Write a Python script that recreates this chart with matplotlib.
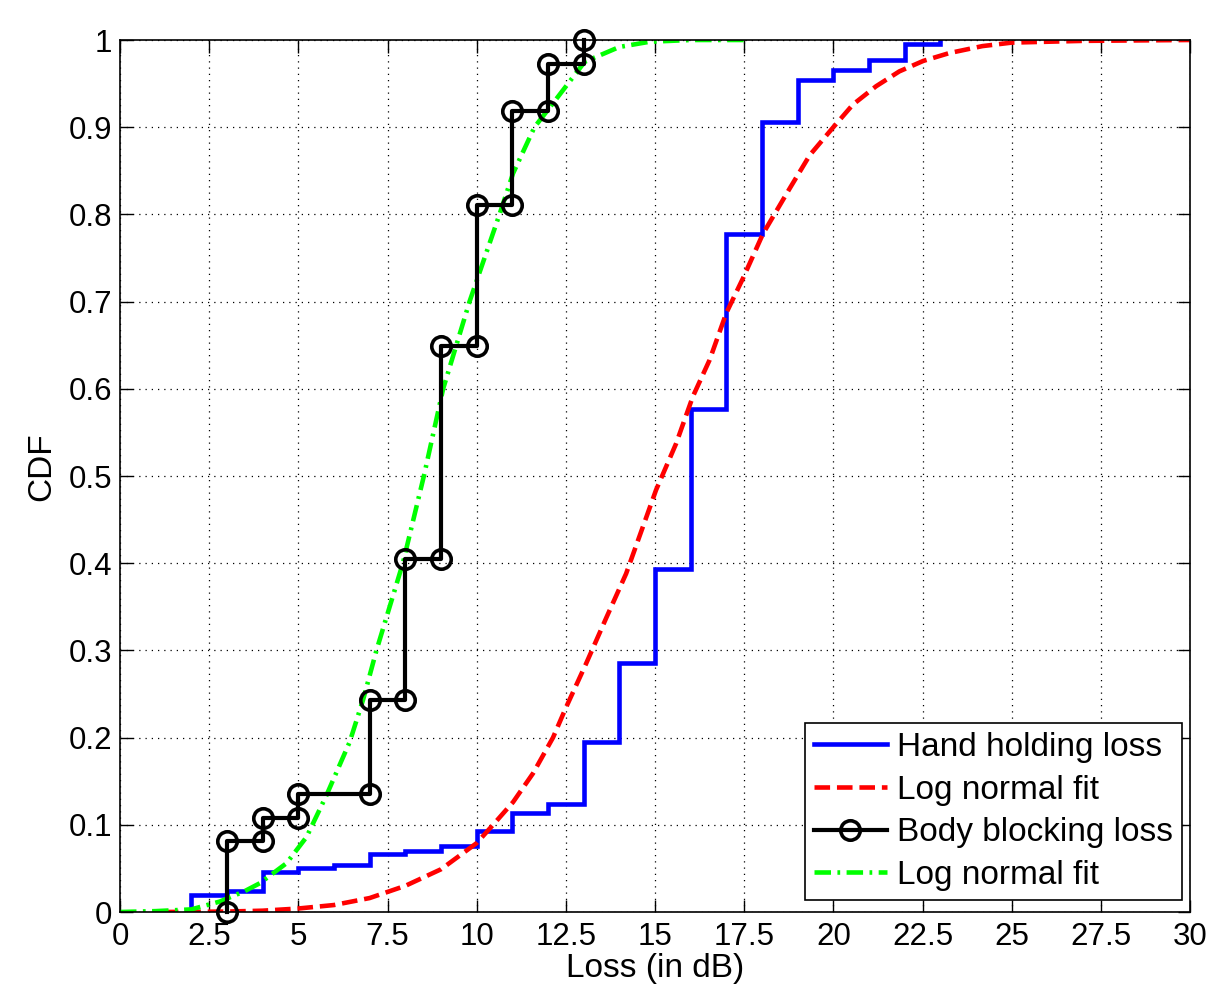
import numpy as np
import matplotlib
matplotlib.use("Agg")
import matplotlib.pyplot as plt

plt.rcParams['font.family'] = ['Liberation Sans', 'DejaVu Sans']

# hand holding loss, empirical cdf (step values after each x)
hand_x = [2, 3, 4, 5, 6, 7, 8, 9, 10, 11, 12, 13, 14, 15, 16, 17, 18, 19, 20, 21, 22, 23]
hand_cdf = [0.019, 0.024, 0.046, 0.050, 0.054, 0.067, 0.070, 0.0757, 0.093, 0.113, 0.1235,
            0.195, 0.285, 0.393, 0.577, 0.777, 0.906, 0.954, 0.966, 0.977, 0.995, 1.0]

# log normal fit for hand holding loss
fit1_x = [1.2, 3, 4, 5, 6, 7, 8, 9, 10, 10.46, 11.02, 11.58, 12.14, 12.51, 13.07, 13.63,
          14.19, 15.03, 15.59, 16.06, 16.53, 17.0, 17.47, 18.03, 18.78, 19.34, 20.0, 20.55,
          21.2, 21.85, 22.52, 23.25, 24.18, 25, 27, 30]
fit1_y = [0, 0.0005, 0.0015, 0.004, 0.008, 0.016, 0.03, 0.049, 0.079, 0.1, 0.126, 0.159,
          0.2, 0.235, 0.285, 0.337, 0.388, 0.484, 0.537, 0.591, 0.633, 0.687, 0.727, 0.778,
          0.83, 0.868, 0.9, 0.926, 0.947, 0.964, 0.976, 0.985, 0.993, 0.997, 0.999, 1.0]

# body blocking loss, empirical cdf
body_x = [3, 4, 5, 7, 8, 9, 10, 11, 12, 13]
body_cdf = [0.081, 0.108, 0.135, 0.243, 0.405, 0.649, 0.811, 0.919, 0.973, 1.0]

# log normal fit for body blocking loss
fit2_x = [0, 1, 2, 2.8, 3.5, 3.92, 4.67, 5.23, 5.79, 6.44, 6.82, 7.19, 7.93, 8.52, 9.06,
          9.8, 10.64, 11.02, 11.62, 12.0, 13.03, 14.0, 14.85, 16, 17.5]
fit2_y = [0, 0.001, 0.003, 0.012, 0.024, 0.033, 0.056, 0.086, 0.134, 0.195, 0.244, 0.30,
          0.40, 0.50, 0.60, 0.70, 0.80, 0.847, 0.90, 0.92, 0.975, 0.992, 0.998, 1.0, 1.0]


def stairs(xs, ys):
    # vertices of an ecdf staircase starting from zero
    px = np.repeat(xs, 2)
    py = np.concatenate([[0], np.repeat(ys, 2)[:-1]])
    return px, py


fig = plt.figure(figsize=(12.07, 9.92), dpi=100)
ax = fig.add_axes([120/1207, 80/992, 1070/1207, 872/992])

hx, hy = stairs(hand_x, hand_cdf)
bx, by = stairs(body_x, body_cdf)

ax.plot(hx, hy, color='#0000ff', lw=3.3, solid_joinstyle='miter', label='Hand holding loss')
ax.plot(fit1_x, fit1_y, color='#ff0000', lw=3.3, ls=(0, (3.4, 1.5)), label='Log normal fit')
ax.plot(bx, by, color='black', lw=3.0, marker='o', ms=14, mfc='none', mew=2.6,
        clip_on=False, zorder=4, label='Body blocking loss')
ax.plot(fit2_x, fit2_y, color='#00ff00', lw=3.3, ls=(0, (3.6, 1.4, 0.6, 1.4)), label='Log normal fit')

ax.set_xlim(0, 30)
ax.set_ylim(0, 1)
ax.set_xticks(np.arange(0, 30.1, 2.5))
ax.set_xticklabels(['0', '2.5', '5', '7.5', '10', '12.5', '15', '17.5', '20', '22.5', '25', '27.5', '30'])
ax.set_yticks(np.arange(0, 1.01, 0.1))
ax.set_yticklabels(['0', '0.1', '0.2', '0.3', '0.4', '0.5', '0.6', '0.7', '0.8', '0.9', '1'])
ax.tick_params(direction='in', length=9, width=1, top=True, right=True, labelsize=22.5)
ax.tick_params(axis='x', pad=7)
ax.tick_params(axis='y', pad=5.5)
ax.grid(True, color='black', ls=(0, (1, 4)), lw=0.9)
for s in ax.spines.values():
    s.set_linewidth(1.2)

ax.set_xlabel('Loss (in dB)', fontsize=24)
ax.xaxis.set_label_coords(0.5, -0.047)
ax.set_ylabel('CDF', fontsize=24)
ax.yaxis.set_label_coords(-0.073, 0.511)
ax.yaxis.label.set_verticalalignment('center')

leg = ax.legend(loc='lower right', bbox_to_anchor=(1182/1207, 92/992), bbox_transform=fig.transFigure,
                fontsize=24, frameon=True, fancybox=False, framealpha=1, edgecolor='black',
                handlelength=2.2, handletextpad=0.3, borderpad=0.27, labelspacing=0.35,
                borderaxespad=0)
leg.get_frame().set_linewidth(1.2)

fig.savefig('out.png', dpi=100)
